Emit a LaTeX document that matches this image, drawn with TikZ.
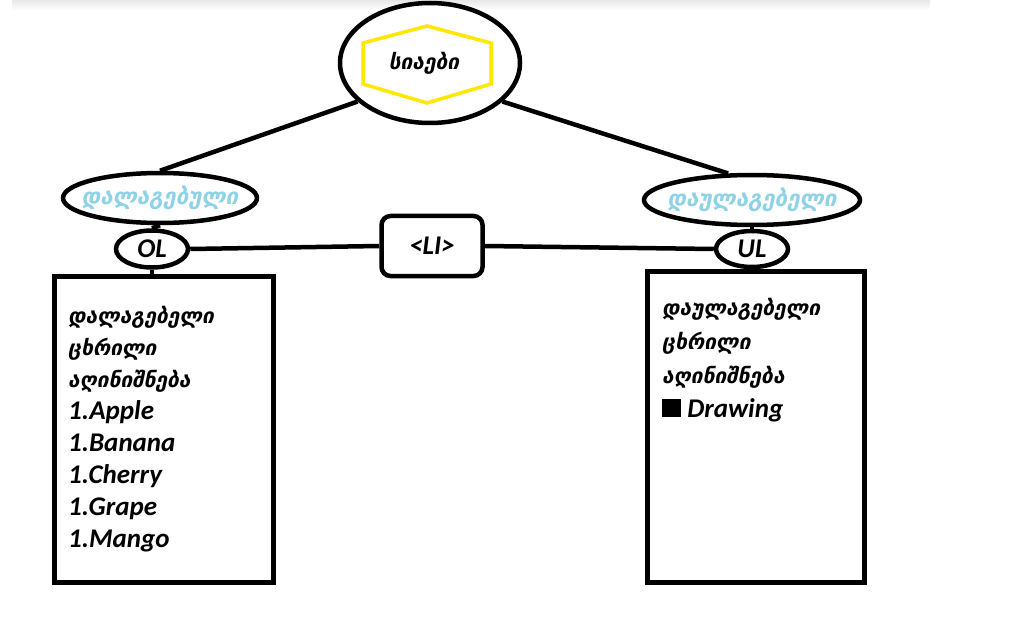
\documentclass[tikz,border=0pt]{standalone}
\usepackage{fontspec}
\setmainfont{Carlito}
\newfontfamily\geo{DejaVu Sans}
\usetikzlibrary{shapes.geometric}
\definecolor{hexyellow}{HTML}{FFE800}
\definecolor{lblue}{HTML}{8ED2E8}
\tikzset{
  blk/.style={line width=4.5pt, draw=black},
  oval/.style={ellipse, blk, fill=white, inner sep=0pt},
  conn/.style={line width=4.5pt, draw=black},
  lat/.style={font=\bfseries\itshape\fontsize{27}{30}\selectfont},
  geolbl/.style={font=\geo\bfseries\itshape\fontsize{22.5}{26}\selectfont, text=lblue, inner sep=0pt},
  boxtext/.style={anchor=north west, align=left, inner sep=0pt},
}
\newcommand{\geoline}[1]{{\geo\bfseries\itshape\fontsize{21}{24}\selectfont #1}}
\begin{document}
\begin{tikzpicture}[x=1pt,y=-1pt]
\useasboundingbox (0,0) rectangle (1032,620);
\shade[top color=gray!18, bottom color=white] (12,0) rectangle (930,10);
% top ellipse
\node[oval, minimum width=180pt, minimum height=120pt] (top) at (430,63) {};
\draw[draw=hexyellow, line width=3.5pt, line join=miter]
  (363,43) -- (427,26) -- (491,43) -- (491,84) -- (427,103) -- (363,84) -- cycle;
\node[font=\geo\bfseries\itshape\fontsize{21}{24}\selectfont, inner sep=0pt] (title) at (424,63) {სიაები};
% ellipses
\node[oval, minimum width=194pt, minimum height=50pt] (ord) at (160,198) {};
\node[geolbl] (ordt) at (160,198) {დალაგებული};
\node[oval, minimum width=216pt, minimum height=50pt] (unord) at (752,200) {};
\node[geolbl] (unordt) at (752,200) {დაულაგებელი};
\node[oval, minimum width=72pt, minimum height=37pt, lat] (ol) at (152,249) {};
\node[lat, inner sep=0pt] (olt) at (152,249) {OL};
\node[oval, minimum width=72pt, minimum height=36pt, lat] (ul) at (752,249) {};
\node[lat, inner sep=0pt] (ult) at (752,249) {UL};
\node[draw=black, line width=4.5pt, rounded corners=9pt, minimum width=101pt, minimum height=60pt, fill=white, lat] (li) at (432,246) {<LI>};
% connectors
\draw[conn] (top.208) -- (ord.north);
\draw[conn] (top.332) -- (unord.132);
\draw[conn] (ol.east) -- (li.west);
\draw[conn] (li.east) -- (ul.west);
\draw[conn] (ord.south) -- (ol.north);
\draw[conn] (unord.south) -- (ul.north);
% boxes
\node[draw=black, line width=4.5pt, minimum width=219pt, minimum height=306pt, anchor=north west, inner sep=0pt] (lbox) at (52,274) {};
\node[draw=black, line width=4.5pt, minimum width=217pt, minimum height=311pt, anchor=north west, inner sep=0pt] (rbox) at (645,269) {};
\draw[conn] (ol.south) -- (lbox.north -| ol.south);
\draw[conn] (ul.south) -- (rbox.north -| ul.south);
\node[boxtext, font=\bfseries\itshape\fontsize{27}{32}\selectfont] (ltext) at (68,306) {\geoline{დალაგებელი}\\\geoline{ცხრილი}\\\geoline{აღინიშნება}\\1.Apple\\1.Banana\\1.Cherry\\1.Grape\\1.Mango};
\node[boxtext, font=\bfseries\itshape\fontsize{27}{34}\selectfont] (rtext) at (662,298) {\geoline{დაულაგებელი}\\\geoline{ცხრილი}\\\geoline{აღინიშნება}\\\rule{19pt}{18pt}\ Drawing};
\end{tikzpicture}
\end{document}
